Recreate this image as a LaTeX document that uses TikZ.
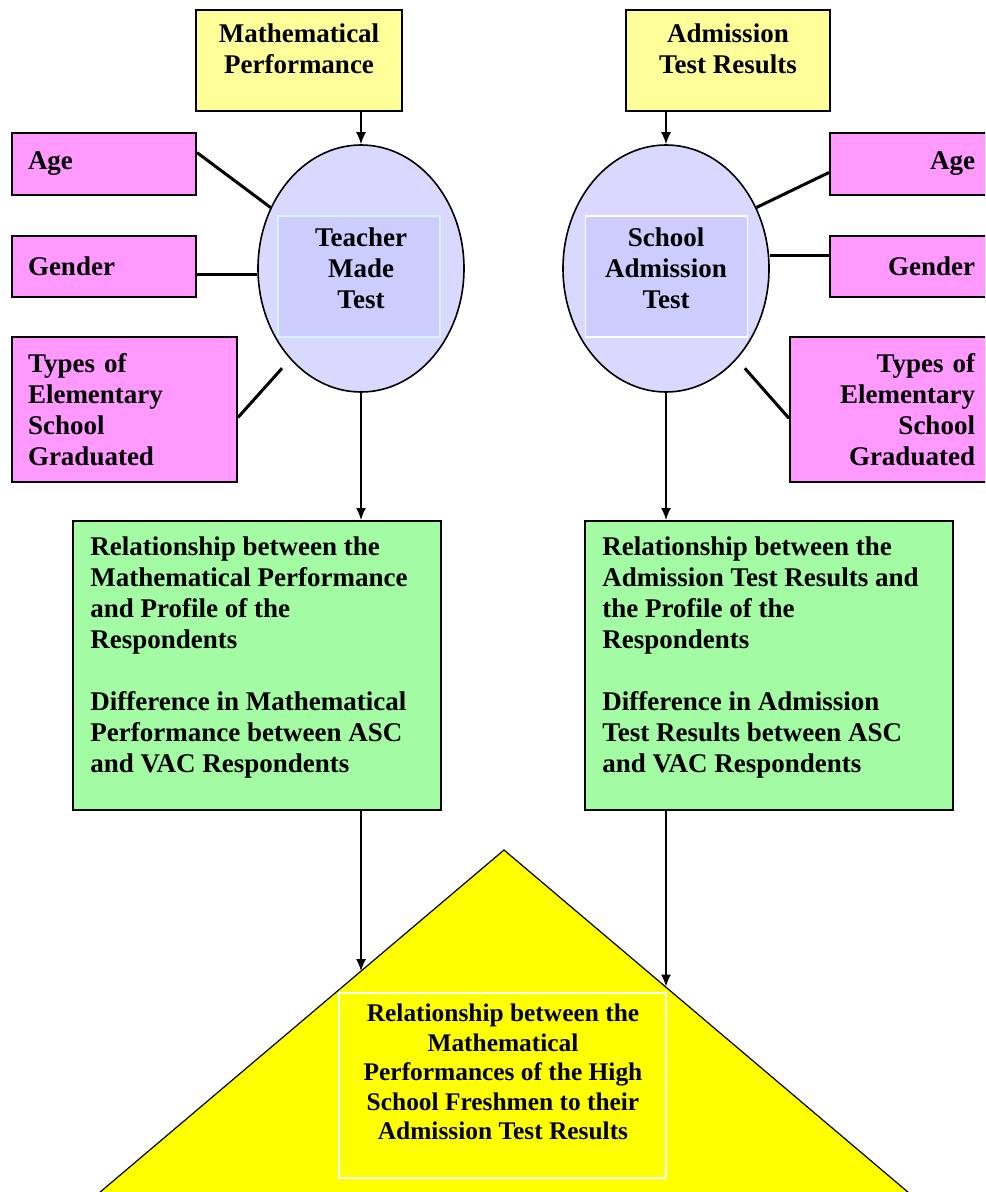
\documentclass[tikz,border=0pt]{standalone}
\usepackage{fontspec}
\setmainfont{Liberation Serif}
\usepackage{xcolor}
\usepackage{tikz}
\usetikzlibrary{shapes.geometric,arrows.meta}

\definecolor{inputyellow}{HTML}{FFFF99}
\definecolor{profilepink}{HTML}{FF99FF}
\definecolor{ovalblue}{HTML}{D9D9FF}
\definecolor{innerblue}{HTML}{CCCCFF}
\definecolor{resultgreen}{HTML}{A3FBA3}
\definecolor{pyramidyellow}{HTML}{FFFF00}

\tikzset{
  varbox/.style={draw, line width=1pt, inner sep=0pt},
  lbl/.style={font=\fontsize{13.5}{15.5}\selectfont\bfseries, inner sep=0pt},
  testoval/.style={ellipse, draw, line width=0.8pt, fill=ovalblue,
    minimum width=103pt, minimum height=123.5pt, inner sep=0pt},
  innerbox/.style={fill=innerblue, line width=0.6pt, inner sep=0pt,
    minimum width=81pt, minimum height=60.5pt},
  leftvar/.style={varbox, lbl, fill=profilepink, align=left, inner xsep=8pt},
  rightvar/.style={varbox, lbl, fill=profilepink, align=right, inner xsep=7.5pt},
  link/.style={line width=1.5pt},
  flow/.style={-{Latex[length=6pt,width=5pt]}, line width=0.7pt},
}

\begin{document}
\begin{tikzpicture}[x=0.5pt,y=-0.5pt]

\useasboundingbox (0,0) rectangle (985,1192);
\clip (0,0) rectangle (985,1192);

% inputs
\node[varbox, fill=inputyellow, minimum width=103pt, minimum height=50.5pt] (mp) at (299,60.5) {};
\node[lbl, align=center] (mptext) at (299,49) {Mathematical\\Performance};
\node[varbox, fill=inputyellow, minimum width=102pt, minimum height=50.5pt] (atr) at (728,60.5) {};
\node[lbl, align=center] (atrtext) at (728,49) {Admission\\Test Results};

% tests
\node[testoval] (tmt) at (361,268.5) {};
\node[innerbox, draw=cyan!15] (tmtin) at (359,276.5) {};
\node[lbl, align=center] (tmttext) at (361,268) {Teacher\\Made\\Test};

\node[testoval] (sat) at (666,268.5) {};
\node[innerbox, draw=white] (satin) at (666.5,276.5) {};
\node[lbl, align=center] (sattext) at (666,268) {School\\Admission\\Test};

% profile, left
\node[leftvar, text width=76pt, minimum height=31pt] (ageL) at (104,164) {Age};
\node[leftvar, text width=76pt, minimum height=30.5pt] (genL) at (104,266.5) {Gender};
\node[leftvar, text width=96.5pt, minimum height=72.5pt] (typL) at (124.5,409.5)
  {Types of\\Elementary\\School\\Graduated};

% profile, right
\node[rightvar, text width=65pt, minimum height=31pt] (ageR) at (910,164) {Age};
\node[rightvar, text width=65pt, minimum height=30.5pt] (genR) at (910,266.5) {Gender};
\node[rightvar, text width=85pt, minimum height=72.5pt] (typR) at (890,409.5)
  {Types of\\Elementary\\School\\Graduated};

% profile links
\draw[link] (ageL.7) -- (tmt.146);
\draw[link] (genL.-5) -- (tmt.west |- genL.-5);
\draw[link, shorten >=6pt] (typL.-4) -- (tmt.232);
\draw[link] (ageR.186) -- (sat.34);
\draw[link] (genR.172) -- (sat.east |- genR.172);
\draw[link, shorten >=6pt] (typR.185) -- (sat.-52);

% results
\node[varbox, fill=resultgreen, minimum width=184pt, minimum height=144.5pt] (relL) at (257,665.5) {};
\node[lbl, align=left, anchor=north west] (relLtext) at (90,536)
  {Relationship between the\\Mathematical Performance\\and Profile of the\\Respondents\\[15.5pt]
   Difference in Mathematical\\Performance between ASC\\and VAC Respondents};
\node[varbox, fill=resultgreen, minimum width=184pt, minimum height=144.5pt] (relR) at (769,665.5) {};
\node[lbl, align=left, anchor=north west] (relRtext) at (602,536)
  {Relationship between the\\Admission Test Results and\\the Profile of the\\Respondents\\[15.5pt]
   Difference in Admission\\Test Results between ASC\\and VAC Respondents};

% pyramid
\coordinate (apex) at (504,850);
\coordinate (hitL) at (361,971);
\coordinate (hitR) at (666,986.5);
\fill[pyramidyellow, draw=black, line width=0.6pt] (apex) -- (86,1204) -- (922,1204) -- cycle;
\node[draw=white, line width=0.8pt, fill=pyramidyellow, minimum width=163.5pt,
  minimum height=92.5pt, inner sep=0pt] (concl) at (502.5,1085.5) {};
\node[lbl, font=\fontsize{12.7}{14.8}\selectfont\bfseries, align=center] (concltext) at (503,1072)
  {Relationship between the\\Mathematical\\Performances of the High\\School Freshmen to their\\Admission Test Results};

% flow
\draw[flow] (tmt.north |- mp.south) -- (tmt.north);
\draw[flow] (sat.north |- atr.south) -- (sat.north);
\draw[flow] (tmt.south) -- (tmt.south |- relL.north);
\draw[flow] (sat.south) -- (sat.south |- relR.north);
\draw[flow] (relL.south -| tmt.south) -- (hitL);
\draw[flow] (relR.south -| sat.south) -- (hitR);

\end{tikzpicture}
\end{document}
